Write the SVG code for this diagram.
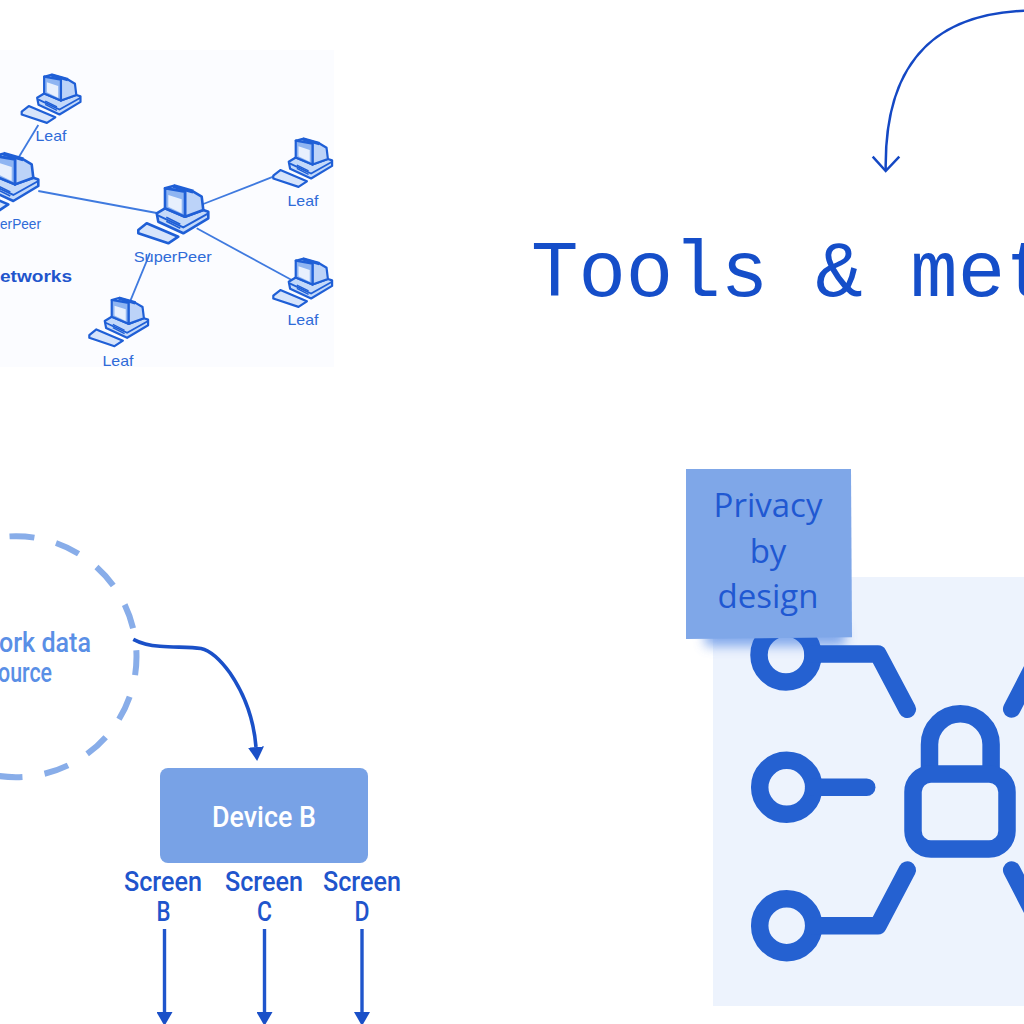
<svg xmlns="http://www.w3.org/2000/svg" xmlns:xlink="http://www.w3.org/1999/xlink" width="1024" height="1024" viewBox="0 0 1024 1024">
<style>
.net{stroke:#3f7adf;stroke-width:1.8;fill:none}
.nl{font-family:"Liberation Sans",Arial,sans-serif;font-size:14.5px;fill:#2f6bd8}
.lbl{font-family:Roboto,"Liberation Sans",sans-serif;fill:#1f55cc;font-size:28px;font-weight:500}
.src{font-family:Roboto,"Liberation Sans",sans-serif;fill:#5a8fe6;font-size:28px;font-weight:500;text-anchor:end}
.icon{fill:none;stroke:#2561d1;stroke-width:17.5;stroke-linecap:round;stroke-linejoin:round}
.note{font-family:"Open Sans","Liberation Sans",sans-serif;font-size:33px;font-weight:400;fill:#1f58d2;text-anchor:middle}
.pc{stroke:#1f5fd6;stroke-width:2.6;stroke-linejoin:round}
</style>
<defs>
<marker id="solid" viewBox="0 0 14 16" refX="0" refY="8" markerWidth="14" markerHeight="16" markerUnits="userSpaceOnUse" orient="auto"><path d="M0 0L14 8L0 16Z" fill="#1a50c8"/></marker>
<filter id="blur" x="-20%" y="-80%" width="140%" height="260%"><feGaussianBlur stdDeviation="6"/></filter>
<g id="pc">
<path class="pc" d="M0 41.700L8.400 35L40 48.400L30 55L0 45Z" fill="#d6e4fb"/>
<path class="pc" d="M18.400 25L26.700 20L46.700 28.400L65 21.700L70 23.400V30L45 45L20 33.400Z" fill="#c4d9f9"/>
<path d="M19.500 27L45 39L70 25" stroke="#1f5fd6" stroke-width="2" fill="none"/>
<path d="M28 33L42 40M28 29L42 36" stroke="#1f5fd6" stroke-width="1.600" fill="none"/>
<path class="pc" d="M26.700 0L35 -2.300L55 3.400L63.400 8.400L65 21.700L46.700 28.400V3.400Z" fill="#bcd3f8"/>
<path class="pc" d="M26.700 0L46.700 3.400V28.400L26.700 20Z" fill="#8fb5f2"/>
<path d="M30 6.700L43.400 11V25L30 18.400Z" fill="#e8f0fd"/>
<path d="M35 -2.300L55 3.400" stroke="#1f5fd6" stroke-width="4"/>
</g>
</defs>
<rect width="1024" height="1024" fill="#fff"/>
<g id="network-image">
<rect x="0" y="50" width="334" height="317" fill="#fbfcff"/>
<g id="network-links">
<path class="net" d="M38.300 125L18.300 158"/>
<path class="net" d="M38.300 191L156.700 213"/>
<path class="net" d="M203.300 204L273.300 176.700"/>
<path class="net" d="M196.700 228.300L291.700 280"/>
<path class="net" d="M150 253L130 301.700"/>
</g>
<g id="leaf-top"><use xlink:href="#pc" href="#pc" transform="translate(21.700 76.700) scale(.84)"/><text class="nl" x="51" y="141" text-anchor="middle" textLength="31" lengthAdjust="spacingAndGlyphs">Leaf</text></g>
<g id="superpeer-left"><use xlink:href="#pc" href="#pc" transform="translate(-31.700 156)"/><text class="nl" x="0" y="229" textLength="41" lengthAdjust="spacingAndGlyphs">erPeer</text></g>
<g id="superpeer-center"><use xlink:href="#pc" href="#pc" transform="translate(138.300 188.300)"/><text class="nl" x="172.700" y="261.700" text-anchor="middle" textLength="78" lengthAdjust="spacingAndGlyphs">SuperPeer</text></g>
<g id="leaf-right"><use xlink:href="#pc" href="#pc" transform="translate(273.300 140.700) scale(.84)"/><text class="nl" x="303" y="206" text-anchor="middle" textLength="31" lengthAdjust="spacingAndGlyphs">Leaf</text></g>
<g id="leaf-lower-right"><use xlink:href="#pc" href="#pc" transform="translate(273.300 260.700) scale(.84)"/><text class="nl" x="303" y="325" text-anchor="middle" textLength="31" lengthAdjust="spacingAndGlyphs">Leaf</text></g>
<g id="leaf-bottom"><use xlink:href="#pc" href="#pc" transform="translate(89.300 300) scale(.84)"/><text class="nl" x="118" y="365.700" text-anchor="middle" textLength="31" lengthAdjust="spacingAndGlyphs">Leaf</text></g>
<text id="networks-label" x="0" y="281.700" font-family="Liberation Sans, Arial, sans-serif" font-weight="700" font-size="17" fill="#1f55cc" textLength="72" lengthAdjust="spacingAndGlyphs">etworks</text>
</g>
<g id="title"><text x="531" y="296" font-family="Liberation Mono, monospace" font-size="79" fill="#154ec9">Tools &amp; met</text></g>
<g id="source-node">
<circle cx="16" cy="656.700" r="120.500" fill="none" stroke="#88ade9" stroke-width="6" stroke-dasharray="25 22.300" stroke-dashoffset="6.500"/>
<text class="src" x="91" y="652" textLength="92" lengthAdjust="spacingAndGlyphs">ork data</text>
<text class="src" x="52" y="682" textLength="54" lengthAdjust="spacingAndGlyphs">ource</text>
</g>
<g id="device-b">
<rect x="160" y="768" width="208" height="95" rx="8" fill="#78a2e6"/>
<text x="264" y="827" text-anchor="middle" font-family="Roboto, sans-serif" font-weight="500" font-size="30" fill="#fff" textLength="104" lengthAdjust="spacingAndGlyphs">Device B</text>
</g>
<g id="screens">
<g id="screen-b"><text class="lbl" x="163" y="890.700" text-anchor="middle" textLength="78" lengthAdjust="spacingAndGlyphs">Screen</text><text class="lbl" x="163.500" y="921" text-anchor="middle" textLength="14" lengthAdjust="spacingAndGlyphs">B</text></g>
<g id="screen-c"><text class="lbl" x="264" y="890.700" text-anchor="middle" textLength="78" lengthAdjust="spacingAndGlyphs">Screen</text><text class="lbl" x="264.500" y="921" text-anchor="middle" textLength="15" lengthAdjust="spacingAndGlyphs">C</text></g>
<g id="screen-d"><text class="lbl" x="362" y="890.700" text-anchor="middle" textLength="78" lengthAdjust="spacingAndGlyphs">Screen</text><text class="lbl" x="362" y="921" text-anchor="middle" textLength="15" lengthAdjust="spacingAndGlyphs">D</text></g>
</g>
<g id="connectors" fill="none">
<path d="M133.300 639.300C142 644 150 645.500 160 646.300C175 647.500 190 646.800 201 648.500C212 651 222 662 230 673C245 695 254 722 256 747" stroke="#1a50c8" stroke-width="3.600" marker-end="url(#solid)"/>
<path d="M164.500 929V1012" stroke="#1f55cc" stroke-width="3.400" marker-end="url(#solid)"/>
<path d="M264.500 929V1012" stroke="#1f55cc" stroke-width="3.400" marker-end="url(#solid)"/>
<path d="M362 929V1012" stroke="#1f55cc" stroke-width="3.400" marker-end="url(#solid)"/>
<path d="M1024 10.700C945 14 884 52 885.700 170" stroke="#1448c4" stroke-width="2.500"/>
<path d="M872.700 156.700L885.700 171L899.300 156.700" stroke="#1448c4" stroke-width="2.500"/>
</g>
<g id="privacy-icon">
<rect x="713" y="577" width="311" height="429" fill="#edf3fd"/>
<rect x="705" y="626" width="140" height="20" fill="#5f90e6" opacity=".75" filter="url(#blur)"/>
<circle class="icon" cx="786" cy="655" r="27"/>
<circle class="icon" cx="786.700" cy="787.300" r="27"/>
<circle class="icon" cx="786.700" cy="925.700" r="27"/>
<path class="icon" d="M813 654H878L907.300 709.300"/>
<path class="icon" d="M813.700 787.300H866.700"/>
<path class="icon" d="M813.700 925.700H878L907.300 870"/>
<path class="icon" d="M1011.700 709L1040 654"/>
<path class="icon" d="M1011.700 870L1040 925"/>
<path class="icon" stroke-linecap="butt" d="M929.500 772V744.500A30.800 30.800 0 0 1 991.100 744.500V772"/>
<rect class="icon" x="913" y="774" width="94" height="75" rx="18"/>
</g>
<g id="privacy-note">
<path d="M686 469H851L852 637.300L686 639Z" fill="#7fa7e8"/>
<text class="note" x="768" y="516.700">Privacy</text>
<text class="note" x="768" y="563">by</text>
<text class="note" x="768" y="608">design</text>
</g>
</svg>
